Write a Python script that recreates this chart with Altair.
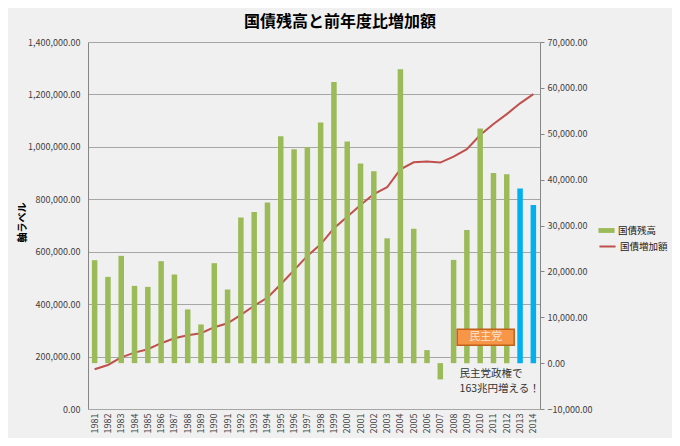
import altair as alt
import pandas as pd

years = [str(y) for y in range(1981, 2015)]
increase = [22440, 18800, 23380, 16840, 16620, 22220, 19320, 11700, 8430, 21790,
            16050, 31740, 32960, 35000, 49450, 46620, 47120, 52440, 61290, 48300,
            43500, 41800, 27200, 64050, 29300, 2830, -3550, 22500, 29000, 51130,
            41460, 41180, 38060, 34490]
stock = [151500, 168000, 197000, 215000, 228000, 251000, 270000, 281000, 289000, 312000,
         327000, 359000, 394000, 425000, 476000, 530000, 584000, 628000, 690000, 733000,
         778000, 820000, 846000, 914000, 941000, 944000, 940000, 963000, 991000, 1045000,
         1087000, 1125000, 1166000, 1201000]
highlight_years = ["2013", "2014"]
bar_label = "国債残高"
line_label = "国債増加額"
title_text = "国債残高と前年度比増加額"
y_title = "軸ラベル"
box_text = "民主党"
note_text = ["民主党政権で", "163兆円増える！"]

df = pd.DataFrame({"year": years, "increase": increase, "stock": stock})
df["bar_series"] = bar_label
df["line_series"] = line_label
df_green = df[~df["year"].isin(highlight_years)]
df_blue = df[df["year"].isin(highlight_years)]

FONT = "Noto Sans CJK JP"
GREEN = "#9BBB59"
BLUE = "#00B0F0"
RED = "#C0504D"

x_enc = alt.X("year:N", sort=years,
              scale=alt.Scale(paddingInner=0, paddingOuter=0),
              axis=alt.Axis(title=None, labelAngle=270, labelFontSize=9, labelColor="#404040",
                            labelFont=FONT, ticks=False, domain=False, labelPadding=4,
                            labelBaseline="middle", labelAlign="right"))

y_right_scale = alt.Scale(domain=[-10000, 70000], nice=False)
y_right_axis = alt.Axis(orient="right", title=None, values=list(range(-10000, 70001, 10000)),
                        format=",.2f", grid=False, labelFontSize=9, labelColor="#404040",
                        labelFont=FONT, tickSize=4, tickColor="#868686", domainColor="#868686",
                        labelPadding=3)


def y_right(field):
    return alt.Y(field, scale=y_right_scale, axis=y_right_axis)


bars_green = alt.Chart(df_green).mark_bar(size=5.5).encode(
    x=x_enc,
    y=y_right("increase:Q"),
    fill=alt.Fill("bar_series:N",
                  scale=alt.Scale(domain=[bar_label], range=[GREEN]),
                  legend=alt.Legend(title=None, orient="none", legendX=510, legendY=180,
                                    symbolType="M-1,-0.3H1V0.3H-1Z", symbolSize=260,
                                    labelFontSize=9.5, labelFont=FONT, labelColor="#222222",
                                    labelOffset=3, symbolStrokeWidth=0)),
)

bars_blue = alt.Chart(df_blue).mark_bar(size=5.5, color=BLUE).encode(
    x=x_enc,
    y=y_right("increase:Q"),
)

line = alt.Chart(df).mark_line(strokeWidth=2).encode(
    x=x_enc,
    y=alt.Y("stock:Q", scale=alt.Scale(domain=[0, 1400000], nice=False),
            axis=alt.Axis(orient="left", title=y_title, values=list(range(0, 1400001, 200000)),
                          format=",.2f", grid=True, gridColor="#A6A6A6", ticks=False,
                          labelFontSize=9, labelColor="#404040", labelFont=FONT,
                          domainColor="#868686", labelPadding=8,
                          titleFont=FONT, titleFontSize=10, titleFontWeight="bold",
                          titleColor="#000000", titleAngle=270, titleX=-66, titleY=180,
                          titleAlign="center", titleBaseline="middle")),
    stroke=alt.Stroke("line_series:N",
                      scale=alt.Scale(domain=[line_label], range=[RED]),
                      legend=alt.Legend(title=None, orient="none", legendX=510, legendY=195,
                                        symbolType="stroke", symbolSize=260,
                                        symbolStrokeWidth=2, labelOffset=3,
                                        labelFontSize=9.5, labelFont=FONT, labelColor="#222222")),
)

ann = pd.DataFrame({"year": ["2010"], "yv": [5650], "label": [box_text]})
box = alt.Chart(ann).mark_point(shape="M-1,-0.28H1V0.28H-1Z", size=3249, filled=True,
                                fill="#F79646", stroke="#C0601A", strokeWidth=1.5,
                                opacity=1, xOffset=5.5).encode(
    x=x_enc,
    y=y_right("yv:Q"),
)
box_label = alt.Chart(ann).mark_text(font=FONT, fontSize=11, color="#FBE5D6",
                                     dx=5.5).encode(
    x=x_enc,
    y=y_right("yv:Q"),
    text="label:N",
)

note = pd.DataFrame({"year": ["2008"], "yv": [-1300], "label": [note_text]})
note_mark = alt.Chart(note).mark_text(font=FONT, fontSize=10.5, color="#333333", align="left",
                                      baseline="top", lineHeight=15, dx=6).encode(
    x=x_enc,
    y=y_right("yv:Q"),
    text="label",
)

right_layer = alt.layer(bars_green, bars_blue, box, box_label, note_mark)

chart = alt.layer(line, right_layer).resolve_scale(
    y="independent", fill="independent", stroke="independent"
).properties(
    width=452, height=367,
    title=alt.TitleParams(title_text, font=FONT, fontSize=16, fontWeight="bold",
                          color="#000000", anchor="middle", dx=26, offset=8),
    padding={"left": 80, "top": 34, "right": 132, "bottom": 29},
    autosize=alt.AutoSizeParams(type="none"),
    background="#F0F0F0",
).configure_view(stroke=None)

chart.save("out.html", embed_options={"renderer": "svg", "actions": False})
